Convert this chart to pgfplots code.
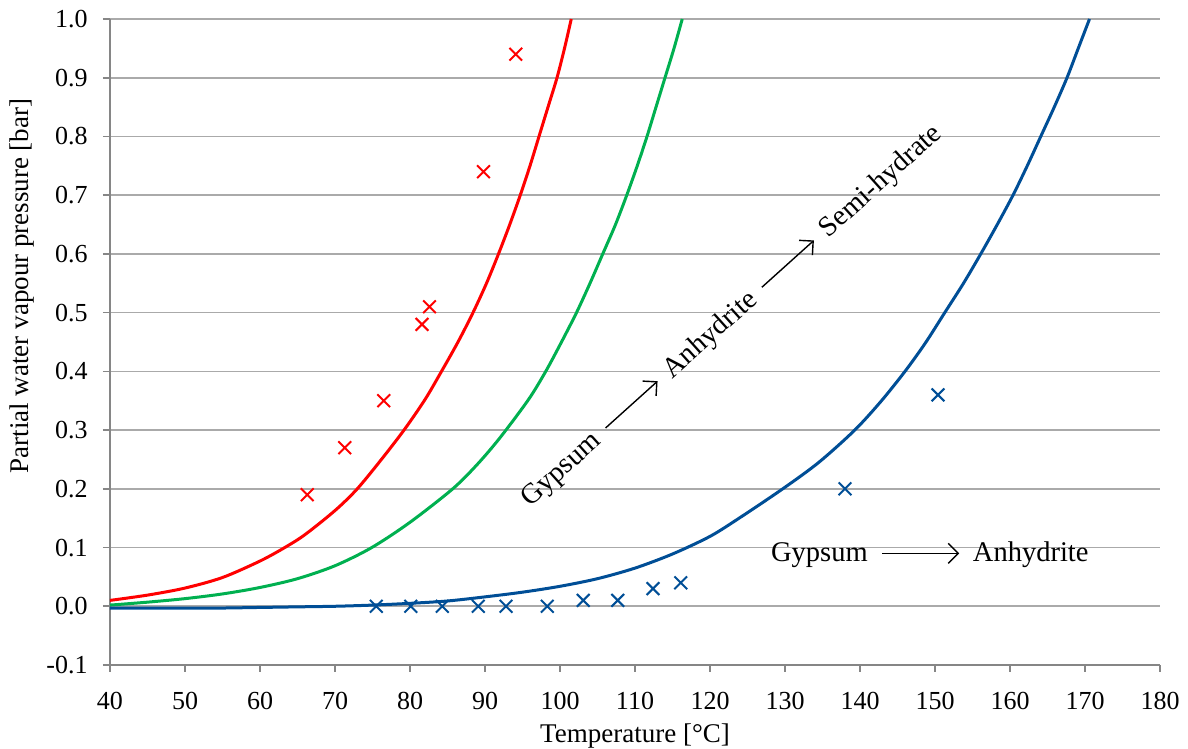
\documentclass[border=0pt]{standalone}
\usepackage{fontspec}
\setmainfont{Liberation Serif}
\usepackage{pgfplots}
\pgfplotsset{compat=1.18}
\usetikzlibrary{arrows.meta,calc}
\definecolor{cred}{RGB}{255,0,0}
\definecolor{cgreen}{RGB}{0,176,80}
\definecolor{cblue}{RGB}{0,78,150}
\definecolor{gridgray}{RGB}{170,170,170}
\definecolor{axisgray}{RGB}{134,134,134}
\tikzset{ann/.style={inner sep=0pt, font=\fontsize{14.25pt}{17pt}\selectfont},
         annarr/.style={-{Straight Barb[length=5pt,width=10pt]}, line width=0.7pt, black}}
\begin{document}
\begin{tikzpicture}
\begin{axis}[
  scale only axis, width=525pt, height=323pt,
  xmin=40, xmax=180, ymin=-0.1, ymax=1.0,
  xtick={40,50,60,70,80,90,100,110,120,130,140,150,160,170,180},
  ytick={-0.1,0,0.1,0.2,0.3,0.4,0.5,0.6,0.7,0.8,0.9,1.0},
  axis x line*=bottom, axis y line*=left,
  axis line style={axisgray, line width=0.8pt},
  tick style={axisgray, line width=0.8pt},
  tick align=outside, major tick length=3.5pt,
  ymajorgrids, grid style={gridgray, line width=0.8pt},
  /pgf/number format/assume math mode=true,
  ticklabel style={font=\fontsize{13pt}{15pt}\selectfont},
  yticklabel style={/pgf/number format/fixed, /pgf/number format/fixed zerofill, /pgf/number format/precision=1, anchor=east, inner sep=0pt, xshift=-7.5pt},
  xticklabel style={anchor=north, inner sep=0pt, yshift=-10pt},
  xlabel={Temperature [°C]},
  ylabel={Partial water vapour pressure [bar]},
  label style={font=\fontsize{13.5pt}{16pt}\selectfont},
  xlabel style={at={(axis description cs:0.5,-0.11)}, anchor=center},
  ylabel style={at={(axis description cs:-0.0838,0.5867)}, anchor=center},
]
\coordinate (bl) at (rel axis cs:0,0);
\coordinate (tr) at (rel axis cs:1,1);
% red curve
\addplot[cred, line width=1.5pt, smooth, tension=0.5] coordinates {
(40,0.010)(45,0.019)(50,0.031)(55,0.049)(60,0.077)(63.3,0.100)(66,0.122)(70,0.163)(72.9,0.199)(76,0.247)(79.2,0.300)(82,0.352)(84.2,0.400)(86.4,0.450)(88.4,0.500)(90.2,0.550)(91.8,0.600)(93.3,0.650)(94.7,0.700)(96,0.750)(97.2,0.800)(98.4,0.850)(99.6,0.900)(100.6,0.950)(101.5,1.000)};
% green curve
\addplot[cgreen, line width=1.5pt, smooth, tension=0.5] coordinates {
(40,0.002)(45,0.007)(50,0.013)(55,0.021)(60,0.032)(65,0.047)(70,0.069)(74.9,0.1)(80,0.143)(85.7,0.2)(89,0.242)(92,0.287)(95.8,0.352)(98.1,0.4)(100.2,0.45)(102.2,0.5)(104,0.55)(105.7,0.6)(107.4,0.65)(108.9,0.7)(110.3,0.75)(111.6,0.8)(112.8,0.85)(114,0.9)(115.2,0.95)(116.3,1.0)};
% blue curve
\addplot[cblue, line width=1.5pt, smooth, tension=0.5] coordinates {
(40,-0.003)(45,-0.003)(50,-0.003)(55,-0.003)(60,-0.002)(65,-0.001)(70,0.000)(75,0.002)(80,0.005)(85,0.009)(90,0.016)(95,0.024)(100,0.034)(105,0.047)(110,0.065)(115,0.089)(120,0.119)(124,0.151)(129.7,0.2)(134.5,0.245)(139.3,0.3)(142.8,0.349)(146,0.4)(148.7,0.448)(151.3,0.5)(153.8,0.55)(156.1,0.6)(158.3,0.65)(160.4,0.7)(162.3,0.75)(164.1,0.8)(165.9,0.85)(167.6,0.9)(169.1,0.95)(170.6,1.0)};
% red measured points
\addplot[only marks, mark=x, mark size=4.5pt, mark options={cred, line width=1pt}] coordinates {
(66.3,0.19)(71.3,0.27)(76.5,0.35)(81.6,0.48)(82.6,0.51)(89.8,0.74)(94.1,0.94)};
% blue measured points
\addplot[only marks, mark=x, mark size=4.5pt, mark options={cblue, line width=1pt}] coordinates {
(75.5,0)(80.1,0)(84.3,0)(89.1,0)(92.8,0)(98.3,0)(103.1,0.01)(107.7,0.01)(112.4,0.03)(116.1,0.04)(138,0.2)(150.4,0.36)};
% diagonal annotation
\node[ann, rotate=42, anchor=base west] (d1) at (axis cs:96,0.168) {Gypsum};
\draw[annarr] ($(d1.base east)+(42:6pt)+(132:4.3pt)$) -- ($(d1.base east)+(42:41pt)+(132:4.3pt)$);
\node[ann, rotate=42, anchor=base west] (d2) at ($(d1.base east)+(42:47pt)$) {Anhydrite};
\draw[annarr] ($(d2.base east)+(42:6pt)+(132:4.3pt)$) -- ($(d2.base east)+(42:41pt)+(132:4.3pt)$);
\node[ann, rotate=42, anchor=base west] (d3) at ($(d2.base east)+(42:47pt)$) {Semi-hydrate};
% horizontal annotation
\node[ann, anchor=base west] (h1) at (axis cs:128.1,0.0754) {Gypsum};
\draw[annarr] ($(h1.base east)+(7pt,4.3pt)$) -- ($(h1.base east)+(45.5pt,4.3pt)$);
\node[ann, anchor=base west] at ($(h1.base east)+(52.2pt,0pt)$) {Anhydrite};
\end{axis}
\pgfresetboundingbox
\path ($(bl)+(-55pt,-42pt)$) rectangle ($(tr)+(14pt,9.5pt)$);
\end{tikzpicture}
\end{document}
